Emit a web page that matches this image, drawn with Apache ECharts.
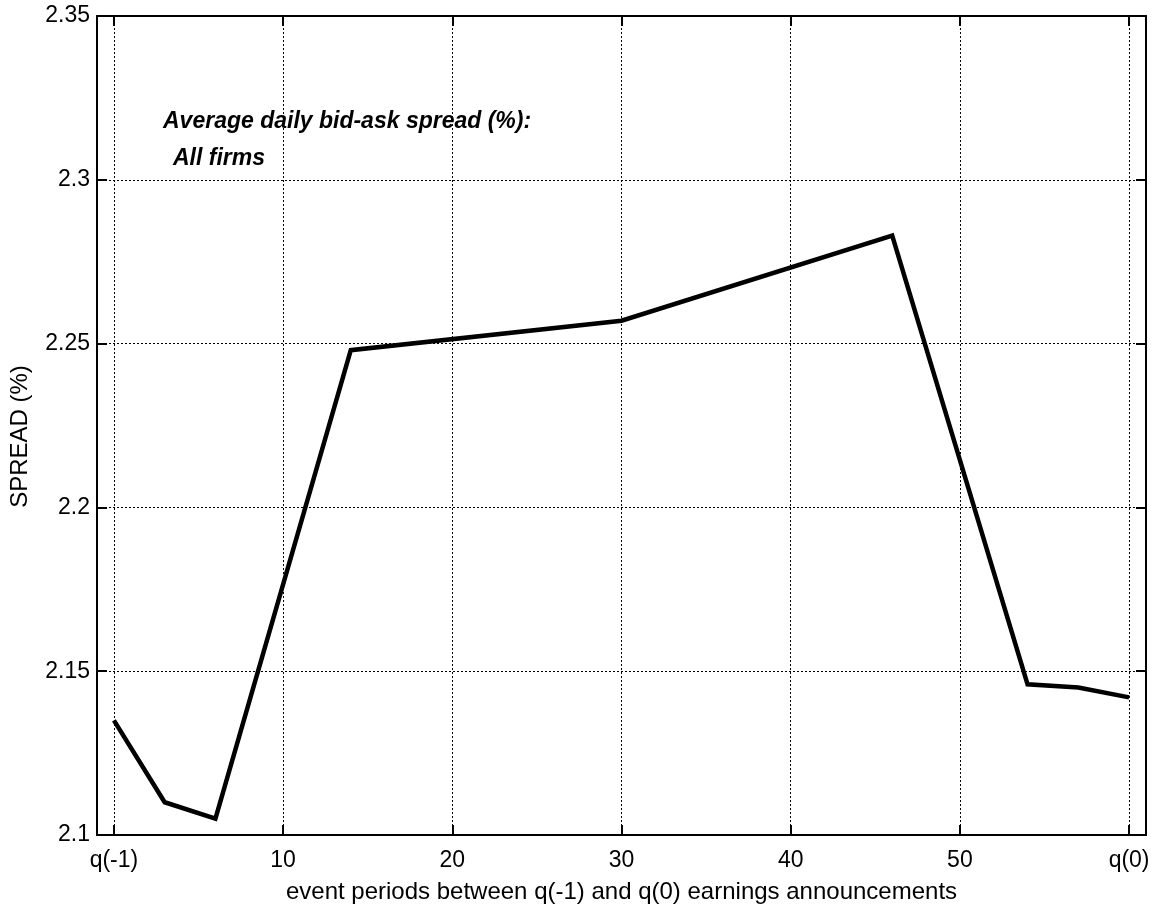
<!DOCTYPE html>
<html>
<head>
<meta charset="utf-8">
<script src="https://cdn.jsdelivr.net/npm/echarts@6/dist/echarts.min.js"></script>
<style>
  html, body { margin: 0; padding: 0; background: #ffffff; }
  #chart { width: 1154px; height: 909px; }
</style>
</head>
<body>
<div id="chart"></div>
<script>
// Event periods between the q(-1) and q(0) earnings announcements
const periods = [0, 3, 6, 14, 30, 46, 54, 57, 60];
// Average daily bid-ask spread, percent
const spread = [2.135, 2.110, 2.105, 2.248, 2.257, 2.283, 2.146, 2.145, 2.142];
// Tick positions on the event axis and their labels
const xTicks = [0, 10, 20, 30, 40, 50, 60];
const xTickLabels = ['q(-1)', '10', '20', '30', '40', '50', 'q(0)'];
const yTicks = [2.1, 2.15, 2.2, 2.25, 2.3, 2.35];

const FONT = '"Liberation Sans", Arial, Helvetica, sans-serif';
const tickFont = 23;
const titleFont = 24;

const chart = echarts.init(document.getElementById('chart'), null, { renderer: 'canvas' });

const frameLine = { show: true, onZero: false, lineStyle: { color: '#000', width: 2 } };
const innerTick = { show: true, inside: true, length: 10, lineStyle: { color: '#000', width: 2 } };
const dottedGrid = { show: true, lineStyle: { color: '#000', width: 1, type: [2, 2] } };

chart.setOption({
  animation: false,
  backgroundColor: '#ffffff',
  grid: { left: 97, top: 16, right: 8, bottom: 65, containLabel: false },
  xAxis: [
    {
      type: 'value', min: -1, max: 61, position: 'bottom',
      name: 'event periods between q(-1) and q(0) earnings announcements',
      nameLocation: 'middle', nameGap: 45,
      nameTextStyle: { color: '#000', fontFamily: FONT, fontSize: titleFont },
      axisLine: frameLine,
      axisTick: Object.assign({ customValues: xTicks }, innerTick),
      splitLine: dottedGrid,
      axisLabel: {
        customValues: xTicks, color: '#000', fontFamily: FONT, fontSize: tickFont, margin: 14,
        formatter: v => xTickLabels[xTicks.indexOf(v)]
      }
    },
    {
      type: 'value', min: -1, max: 61, position: 'top',
      axisLine: frameLine,
      axisTick: Object.assign({ customValues: xTicks }, innerTick),
      axisLabel: { show: false, customValues: xTicks },
      splitLine: { show: false }
    }
  ],
  yAxis: [
    {
      type: 'value', min: 2.1, max: 2.35, interval: 0.05, position: 'left',
      name: 'SPREAD (%)', nameLocation: 'middle', nameGap: 65,
      nameTextStyle: { color: '#000', fontFamily: FONT, fontSize: titleFont, padding: [0, 22, 0, 0] },
      axisLine: frameLine,
      axisTick: innerTick,
      splitLine: dottedGrid,
      axisLabel: {
        color: '#000', fontFamily: FONT, fontSize: tickFont, margin: 7,
        customValues: yTicks,
        formatter: v => String(+v.toFixed(2))
      }
    },
    {
      type: 'value', min: 2.1, max: 2.35, interval: 0.05, position: 'right',
      axisLine: frameLine,
      axisTick: innerTick,
      axisLabel: { show: false },
      splitLine: { show: false }
    }
  ],
  graphic: [
    {
      type: 'text', left: 163, top: 110,
      style: {
        text: 'Average daily bid-ask spread (%):',
        fill: '#000', font: 'italic bold ' + tickFont + 'px ' + FONT
      }
    },
    {
      type: 'text', left: 173, top: 147,
      style: {
        text: 'All firms',
        fill: '#000', font: 'italic bold ' + tickFont + 'px ' + FONT
      }
    }
  ],
  series: [
    {
      type: 'line',
      xAxisIndex: 0, yAxisIndex: 0,
      data: periods.map((p, i) => [p, spread[i]]),
      showSymbol: false,
      lineStyle: { color: '#000', width: 4.5, join: 'miter' },
      z: 5
    }
  ]
});
</script>
</body>
</html>
